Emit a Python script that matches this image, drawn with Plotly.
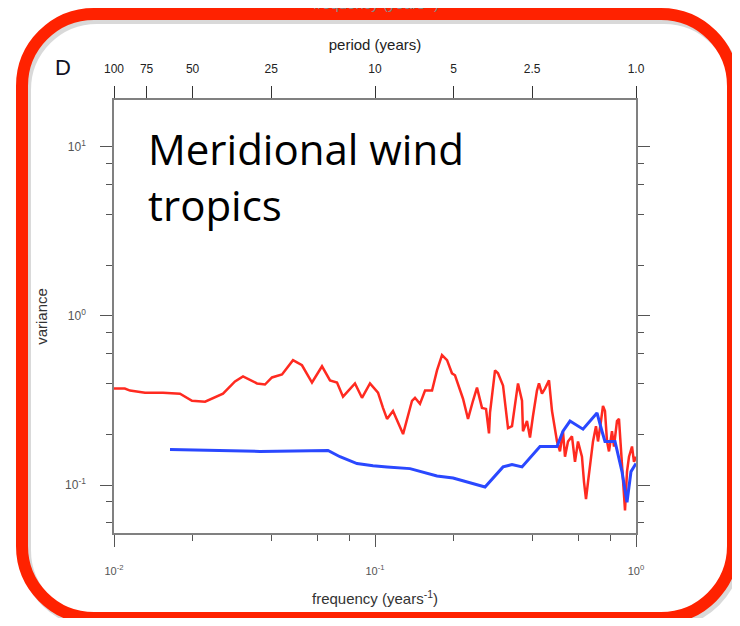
import plotly.graph_objects as go

# ---------------- data ----------------
red_freq = [0.0100, 0.0110, 0.01152, 0.01315, 0.01541, 0.01790, 0.01990, 0.02233, 0.02616, 0.02908,
            0.03121, 0.03409, 0.03531, 0.03788, 0.04030, 0.04403, 0.04851, 0.05251, 0.05736, 0.06266,
            0.06724, 0.07153, 0.07542, 0.08381, 0.08916, 0.09568, 0.1027, 0.1073, 0.1112, 0.1172,
            0.1281, 0.1386, 0.1423, 0.1487, 0.1555, 0.1654, 0.1728, 0.1806, 0.1888, 0.1972,
            0.2025, 0.2174, 0.2272, 0.2374, 0.2459, 0.2570, 0.2663, 0.2734, 0.2758, 0.2883,
            0.2960, 0.3094, 0.3204, 0.3233, 0.3349, 0.3500, 0.3531, 0.3658, 0.3690, 0.3822,
            0.3925, 0.4030, 0.4174, 0.4249, 0.4363, 0.4480, 0.4642, 0.4767, 0.4982, 0.5114,
            0.5251, 0.5345, 0.5488, 0.5685, 0.5838, 0.5995, 0.6208, 0.6322, 0.6433, 0.6548,
            0.6724, 0.6843, 0.7026, 0.7151, 0.7343, 0.7473, 0.7606, 0.7743, 0.7880, 0.8091,
            0.8235, 0.8455, 0.8606, 0.8837, 0.8916, 0.9076, 0.9237, 0.9402, 0.9654, 0.9824, 1.0]
red_var = [0.372, 0.372, 0.362, 0.352, 0.352, 0.347, 0.315, 0.311, 0.347, 0.410,
           0.439, 0.410, 0.399, 0.393, 0.433, 0.451, 0.548, 0.511, 0.404, 0.504,
           0.416, 0.404, 0.333, 0.399, 0.328, 0.399, 0.352, 0.286, 0.246, 0.274,
           0.200, 0.315, 0.328, 0.302, 0.362, 0.362, 0.477, 0.587, 0.548, 0.458,
           0.446, 0.324, 0.246, 0.315, 0.377, 0.286, 0.282, 0.202, 0.267, 0.477,
           0.458, 0.388, 0.239, 0.217, 0.223, 0.362, 0.399, 0.315, 0.208, 0.239,
           0.191, 0.256, 0.362, 0.399, 0.347, 0.372, 0.416, 0.274, 0.181, 0.158,
           0.208, 0.147, 0.181, 0.194, 0.137, 0.181, 0.147, 0.104, 0.0824, 0.104,
           0.147, 0.181, 0.223, 0.181, 0.239, 0.294, 0.274, 0.181, 0.158, 0.208,
           0.169, 0.239, 0.246, 0.134, 0.104, 0.0708, 0.120, 0.147, 0.169, 0.137, 0.147]

blue_freq = [0.01639, 0.03626, 0.06606, 0.07340, 0.08531, 0.09825, 0.1112, 0.1362, 0.1728, 0.1991,
             0.2640, 0.3094, 0.3349, 0.3658, 0.4287, 0.4982, 0.5251, 0.5586, 0.6265, 0.7088,
             0.7408, 0.7606, 0.8309, 0.8837, 0.9237, 0.9568, 1.0]
blue_var = [0.162, 0.158, 0.160, 0.147, 0.134, 0.130, 0.128, 0.125, 0.113, 0.110,
            0.0973, 0.128, 0.132, 0.128, 0.169, 0.169, 0.208, 0.239, 0.214, 0.267,
            0.208, 0.181, 0.181, 0.120, 0.0790, 0.120, 0.134]

x_major = [0.01, 0.1, 1.0]
x_major_text = ["10<sup>-2</sup>", "10<sup>-1</sup>", "10<sup>0</sup>"]
x_minor = [0.02, 0.04, 0.06, 0.08, 0.2, 0.4, 0.6, 0.8]
y_major = [0.1, 1.0, 10.0]
y_major_text = ["10<sup>-1</sup>", "10<sup>0</sup>", "10<sup>1</sup>"]
y_minor = [0.06, 0.08, 0.2, 0.4, 0.6, 0.8, 2, 4, 6, 8]
period_years = [100, 75, 50, 25, 10, 5, 2.5, 1.0]
period_text = ["100", "75", "50", "25", "10", "5", "2.5", "1.0"]

# ---------------- layout helpers ----------------
# The page body adds an 8px offset; figure is sized so the page has no overflow.
OFF = 8
W, H = 740 - 2 * OFF, 626 - 2 * OFF
PL, PR, PT, PB = 114, 636, 100, 533          # plot box in page pixels
L, R = PL - OFF, W - (PR - OFF)
T, B = PT - OFF, H - (PB - OFF)
PW, PH = PR - PL, PB - PT

def px(x):
    return (x - PL) / PW

def py(y):
    return (PB - y) / PH

def rounded_rect(x0, y0, x1, y1, r):
    k = 0.5523 * r
    pts = [
        f"M {px(x0 + r)},{py(y0)}",
        f"L {px(x1 - r)},{py(y0)}",
        f"C {px(x1 - r + k)},{py(y0)} {px(x1)},{py(y0 + r - k)} {px(x1)},{py(y0 + r)}",
        f"L {px(x1)},{py(y1 - r)}",
        f"C {px(x1)},{py(y1 - r + k)} {px(x1 - r + k)},{py(y1)} {px(x1 - r)},{py(y1)}",
        f"L {px(x0 + r)},{py(y1)}",
        f"C {px(x0 + r - k)},{py(y1)} {px(x0)},{py(y1 - r + k)} {px(x0)},{py(y1 - r)}",
        f"L {px(x0)},{py(y0 + r)}",
        f"C {px(x0)},{py(y0 + r - k)} {px(x0 + r - k)},{py(y0)} {px(x0 + r)},{py(y0)}",
        "Z",
    ]
    return " ".join(pts)

TICKFONT = dict(family="Liberation Sans, Arial, sans-serif", size=11, color="#555555")
AXCOL = "#808080"
TICKCOL = "#555555"

fig = go.Figure()
fig.add_trace(go.Scatter(x=red_freq, y=red_var, mode="lines",
                         line=dict(color="#FF2A20", width=2.5), showlegend=False))
fig.add_trace(go.Scatter(x=blue_freq, y=blue_var, mode="lines",
                         line=dict(color="#2A48FF", width=3), showlegend=False))
# anchor trace for the top (period) axis
fig.add_trace(go.Scatter(x=[0.01, 1.0], y=[1, 1], xaxis="x2", mode="none",
                         showlegend=False, hoverinfo="skip"))

fig.update_layout(
    width=W, height=H,
    margin=dict(l=L, r=R, t=T, b=B),
    paper_bgcolor="white", plot_bgcolor="white",
    font=dict(family="Liberation Sans, Arial, sans-serif"),
    xaxis=dict(
        type="log", range=[-2, 0], showgrid=False, zeroline=False,
        tickvals=x_major, ticktext=x_major_text, tickfont=TICKFONT,
        ticks="outside", ticklen=12, tickwidth=1.2, tickcolor=TICKCOL,
        ticklabelstandoff=15,
        showline=True, linecolor=AXCOL, linewidth=1.5,
        minor=dict(tickvals=x_minor, ticks="outside", ticklen=6, tickwidth=1.2,
                   tickcolor=TICKCOL, showgrid=False),
        title=dict(text="frequency (years<sup>-1</sup>)",
                   font=dict(size=15, color="#333333"), standoff=18),
    ),
    xaxis2=dict(
        type="log", range=[-2, 0], overlaying="x", side="top", anchor="y",
        showgrid=False, zeroline=False,
        tickvals=[1.0 / p for p in period_years], ticktext=period_text,
        tickfont=dict(family="Liberation Sans, Arial, sans-serif", size=12, color="#222222"),
        ticks="outside", ticklen=12, tickwidth=1.2, tickcolor="#333333",
        ticklabelstandoff=8,
        showline=True, linecolor=AXCOL, linewidth=1.5,
        title=dict(text="period (years)", font=dict(size=15, color="#222222"), standoff=8),
    ),
    yaxis=dict(
        type="log", range=[-1.284, 1.278], showgrid=False, zeroline=False,
        tickvals=y_major, ticktext=y_major_text, tickfont=dict(TICKFONT, size=12),
        ticks="outside", ticklen=12, tickwidth=1.2, tickcolor=TICKCOL,
        ticklabelstandoff=12,
        showline=True, linecolor=AXCOL, linewidth=1.5, mirror="ticks",
        minor=dict(tickvals=y_minor, ticks="outside", ticklen=6, tickwidth=1.2,
                   tickcolor=TICKCOL, showgrid=False),
        title=dict(text="variance", font=dict(size=15, color="#333333"), standoff=14),
    ),
)

fig.add_annotation(text="Meridional wind", xref="paper", yref="paper",
                   x=px(146), y=py(148), xanchor="left", yanchor="middle", showarrow=False,
                   font=dict(family="Open Sans, Noto Sans, sans-serif", size=42, color="black"))
fig.add_annotation(text="tropics", xref="paper", yref="paper",
                   x=px(146), y=py(204), xanchor="left", yanchor="middle", showarrow=False,
                   font=dict(family="Open Sans, Noto Sans, sans-serif", size=42, color="black"))
fig.add_annotation(text="D", xref="paper", yref="paper",
                   x=px(63), y=py(68), xanchor="center", yanchor="middle", showarrow=False,
                   font=dict(family="Liberation Sans, Arial, sans-serif", size=22, color="#111122"))
# partially visible heading at the very top edge (cut off in the reference too)
fig.add_annotation(text="frequency (years<sup>-1</sup>)", xref="paper", yref="paper",
                   x=px(376), y=py(2), xanchor="center", yanchor="middle", showarrow=False,
                   font=dict(family="Liberation Sans, Arial, sans-serif", size=15, color="#888888"))

# frame: soft shadow + red rounded border (page pixel positions)
fig.add_shape(type="path", xref="paper", yref="paper", layer="below",
              path=rounded_rect(25, 18, 736, 622, 72),
              line=dict(color="rgba(0,0,0,0.15)", width=12))
fig.add_shape(type="path", xref="paper", yref="paper", layer="above",
              path=rounded_rect(22, 14, 733, 618, 72),
              line=dict(color="#FF2200", width=12))

fig.write_html("out.html")
